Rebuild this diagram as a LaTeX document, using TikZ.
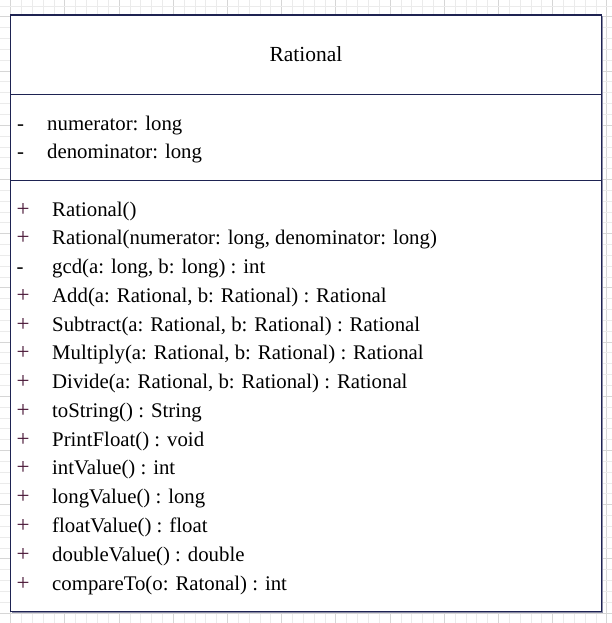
\documentclass[tikz,border=0pt]{standalone}
\usepackage{fontspec}
\setmainfont{Liberation Serif}
\definecolor{gridminor}{HTML}{EBEBEB}
\definecolor{gridmajor}{HTML}{D6D6D6}
\definecolor{umlline}{HTML}{1E2352}
\definecolor{umlshadow}{HTML}{8A8CA6}
\definecolor{plusmark}{HTML}{4A1838}
\tikzset{
  gridthin/.style={draw=gridminor, line width=0.8pt},
  gridthick/.style={draw=gridmajor, line width=0.9pt},
  classframe/.style={draw=umlline, line width=1.3pt, fill=white},
  compartment/.style={draw=umlline, line width=1.3pt},
  umltext/.style={inner sep=0pt, font=\fontsize{20.8}{25}\selectfont, text=black},
  titletext/.style={umltext, font=\fontsize{21.5}{26}\selectfont},
  vis/.style={umltext, anchor=base west},
  pub/.style={vis, text=plusmark, font=\fontsize{23}{26}\selectfont},
  priv/.style={vis},
  member/.style={umltext, anchor=base west},
}
\begin{document}
\begin{tikzpicture}[x=1pt, y=-1pt]
\useasboundingbox (0,0) rectangle (612,623);
\fill[white] (0,0) rectangle (612,623);

% background grid, heavier line every fifth step
\foreach \i in {0,...,55} {
  \pgfmathsetmacro\gx{10.7+10.84*\i}
  \pgfmathtruncatemacro\gm{mod(\i,5)}
  \ifnum\gm=0
    \draw[gridthick] (\gx,0) -- (\gx,623);
  \else
    \draw[gridthin] (\gx,0) -- (\gx,623);
  \fi
}
\foreach \j in {0,...,57} {
  \pgfmathsetmacro\gy{6.0+10.84*\j}
  \pgfmathtruncatemacro\gm{mod(\j+4,5)}
  \ifnum\gm=0
    \draw[gridthick] (0,\gy) -- (612,\gy);
  \else
    \draw[gridthin] (0,\gy) -- (612,\gy);
  \fi
}

% class frame
\coordinate (nw) at (10.7,15);
\coordinate (se) at (601.7,611.3);
\coordinate (sepA-w) at (10.7,94.3);
\coordinate (sepA-e) at (601.7,94.3);
\coordinate (sepB-w) at (10.7,180.3);
\coordinate (sepB-e) at (601.7,180.3);
\fill[umlshadow] ([shift={(1.5,1.5)}]nw) rectangle ([shift={(1.5,1.5)}]se);
\draw[classframe] (nw) rectangle (se);
\draw[compartment] (sepA-w) -- (sepA-e);
\draw[compartment] (sepB-w) -- (sepB-e);

% class name
\node[titletext, anchor=base] (title) at (306,61.7) {Rational};

% attributes
\node[priv] (va1) at (17,130) {-};
\node[member] (a1) at (47,130) {numerator: long};
\node[priv] (va2) at (17,158.7) {-};
\node[member] (a2) at (47,158.7) {denominator: long};

% operations
\foreach \k/\s/\txt in {
  0/pub/{Rational()},
  1/pub/{Rational(numerator: long, denominator: long)},
  2/priv/{gcd(a: long, b: long) : int},
  3/pub/{Add(a: Rational, b: Rational) : Rational},
  4/pub/{Subtract(a: Rational, b: Rational) : Rational},
  5/pub/{Multiply(a: Rational, b: Rational) : Rational},
  6/pub/{Divide(a: Rational, b: Rational) : Rational},
  7/pub/{toString() : String},
  8/pub/{PrintFloat() : void},
  9/pub/{intValue() : int},
  10/pub/{longValue() : long},
  11/pub/{floatValue() : float},
  12/pub/{doubleValue() : double},
  13/pub/{compareTo(o: Ratonal) : int}} {
  \pgfmathsetmacro\by{216+28.77*\k}
  \node[\s] (vm\k) at (16.5,\by) {\ifnum\pdfstrcmp{\s}{pub}=0 +\else -\fi};
  \node[member] (m\k) at (52,\by) {\txt};
}
\end{tikzpicture}
\end{document}
